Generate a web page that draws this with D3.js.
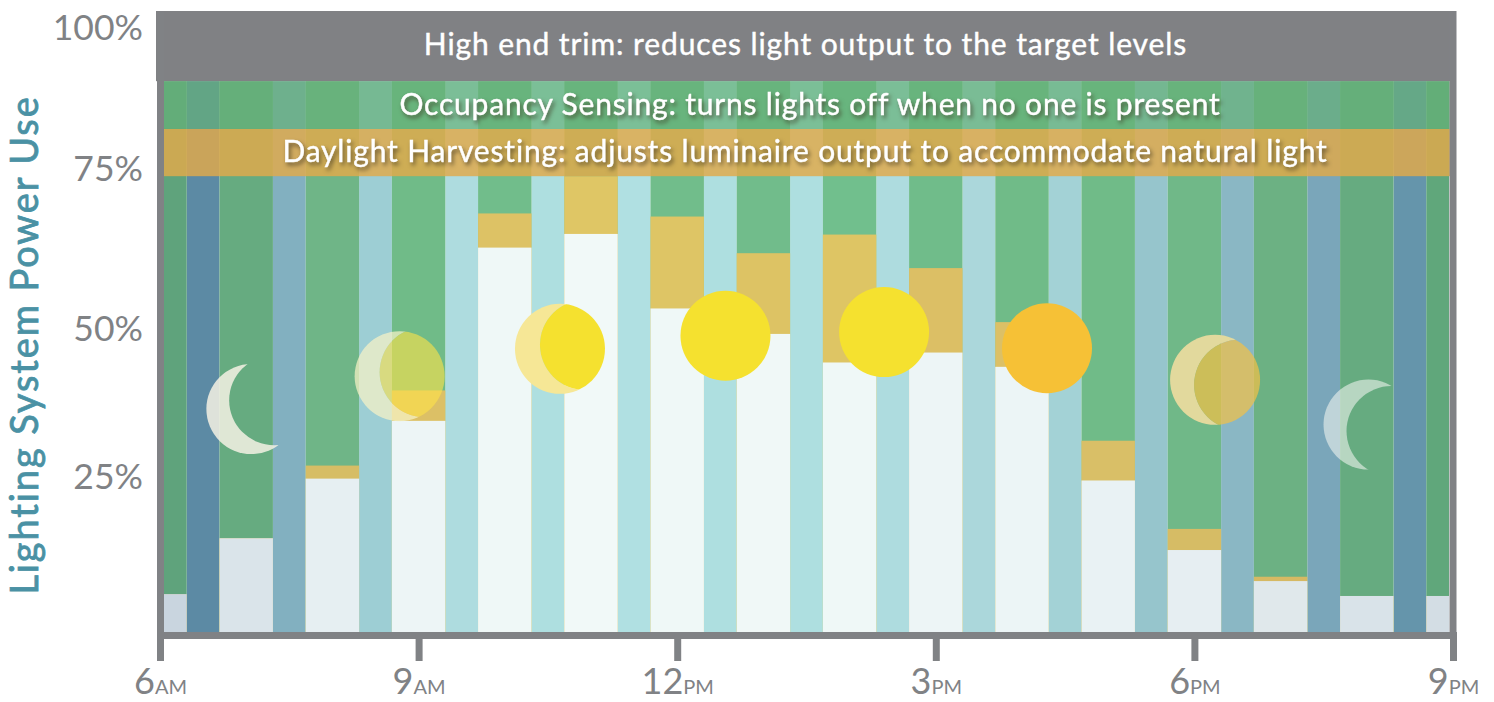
<!DOCTYPE html>
<html>
<head>
  <title>Lighting System Power Use</title>
  <script src="https://d3js.org/d3.v7.min.js"></script>
  <style>
    body { margin: 0; background: #fff; }
    text { font-family: Lato, "Open Sans", sans-serif; }
    .shadow { filter: drop-shadow(2px 3px 2px rgba(60, 50, 30, 0.65)); }
  </style>
</head>
<body>
  <div id="chart"></div>
  <script>
    // values, all in percent of power use
    var hours = [6, 7, 8, 9, 10, 11, 12, 13, 14, 15, 16, 17, 18, 19, 20, 21];
    var powerUsed = [6.1, 15.1, 24.7, 34.0, 61.9, 64.1, 52.1, 48.0, 43.4, 45.0, 42.7, 24.4, 13.2, 8.2, 5.8, 5.8];
    var daylightTop = [6.1, 15.1, 26.8, 38.9, 67.4, 73.4, 66.9, 61.0, 64.0, 58.6, 49.9, 30.8, 16.6, 8.9, 5.8, 5.8];
    var bandNames = ["High end trim: reduces light output to the target levels",
      "Occupancy Sensing: turns lights off when no one is present",
      "Daylight Harvesting: adjusts luminaire output to accommodate natural light"];
    var bandFrom = [88.7, 81, 73.4];
    var bandTo = [100, 88.7, 81];
    var yTicks = [25, 50, 75, 100];
    var xTicks = [6, 9, 12, 15, 18, 21];
    var xTickNums = ["6", "9", "12", "3", "6", "9"];
    var xTickParts = ["AM", "AM", "PM", "PM", "PM", "PM"];
    // sun and moon position over the day
    var skyHour = [7.06, 8.78, 10.64, 12.56, 14.40, 16.29, 18.24, 20.02];
    var skyLevel = [35.9, 41.2, 45.6, 47.7, 48.3, 45.7, 40.6, 33.4];

    // colours, one per hour / per gap after the hour
    var whiteCols = ["#c9d5df", "#dae4ea", "#e6eff2", "#edf5f6", "#eff8f7", "#f1f9f8", "#eff8f7", "#f0f8f7", "#eff8f7", "#edf5f6", "#ecf5f6", "#e9f2f4", "#e6eef2", "#e0e8eb", "#d9e3e9", "#d3dde4"];
    var greenCols = ["#5fa37c", "#66ab80", "#6fb587", "#70bb88", "#71bd8b", "#71bd8b", "#71bd8b", "#71bc8b", "#71bf8d", "#70bc8a", "#70bb88", "#70bb88", "#70b888", "#6cb183", "#66ab80", "#60a77b"];
    var amberCols = ["#d5bc62", "#d5bc62", "#d6bd65", "#dcc066", "#ddc265", "#dfc665", "#dec565", "#ddc364", "#dec564", "#dcbf65", "#dcc066", "#d9bf67", "#d6bc65", "#d6b963", "#d5bc62", "#d5bc62"];
    var gapCols = ["#5c8aa4", "#82b0c0", "#9dced4", "#aedcdf", "#aedfe0", "#b0e0e2", "#aedfe0", "#aedfe0", "#aedcdf", "#abd7db", "#a3d2d6", "#96c5cc", "#8ab7c4", "#7aa6ba", "#6595ab"];
    var bandCols = ["#808184", "#65b077", "#e1a94b"];
    var bandOpacity = [1, 0.7, 0.83];

    var width = 1494, height = 702;
    var barHalf = 0.31, discR = 45;
    var grey = "#808285";

    var svg = d3.select("#chart").append("svg")
      .attr("width", width)
      .attr("height", height)
      .style("display", "block");

    var x = d3.scaleLinear().domain([6, 21]).range([160, 1453]);
    var y = d3.scaleLinear().domain([0, 100]).range([632, 11]);
    // the percent labels do not sit on the grid in the original
    var labelY = d3.scaleLinear().domain(yTicks).range([476, 328, 168, 27]);

    var left = 163, right = 1449;
    function clampX(v) { return Math.max(left, Math.min(right, v)); }

    var gapHours = hours.slice(0, -1);
    svg.selectAll("rect.gap")
      .data(gapHours)
      .enter()
      .append("rect")
      .attr("class", "gap")
      .attr("x", function(d) { return x(d + barHalf); })
      .attr("width", function(d) { return x(d + 1 - barHalf) - x(d + barHalf); })
      .attr("y", y(bandFrom[0]))
      .attr("height", y(0) - y(bandFrom[0]))
      .attr("fill", function(d, i) { return gapCols[i]; });

    function barX(d) { return clampX(x(d - barHalf)); }
    function barW(d) { return clampX(x(d + barHalf)) - clampX(x(d - barHalf)); }

    // green = occupancy saved, from the amber top up to the band
    svg.selectAll("rect.green")
      .data(hours)
      .enter()
      .append("rect")
      .attr("class", "green")
      .attr("x", barX)
      .attr("width", barW)
      .attr("y", y(bandFrom[0]))
      .attr("height", y(0) - y(bandFrom[0]))
      .attr("fill", function(d, i) { return greenCols[i]; });

    svg.selectAll("rect.amber")
      .data(hours)
      .enter()
      .append("rect")
      .attr("class", "amber")
      .attr("x", barX)
      .attr("width", barW)
      .attr("y", function(d, i) { return y(daylightTop[i]); })
      .attr("height", function(d, i) { return y(0) - y(daylightTop[i]); })
      .attr("fill", function(d, i) { return amberCols[i]; });

    svg.selectAll("rect.white")
      .data(hours)
      .enter()
      .append("rect")
      .attr("class", "white")
      .attr("x", barX)
      .attr("width", barW)
      .attr("y", function(d, i) { return y(powerUsed[i]); })
      .attr("height", function(d, i) { return y(0) - y(powerUsed[i]); })
      .attr("fill", function(d, i) { return whiteCols[i]; });

    // three horizontal savings bands
    svg.selectAll("rect.band")
      .data(bandNames)
      .enter()
      .append("rect")
      .attr("class", "band")
      .attr("x", function(d, i) { return i == 0 ? 156 : left; })
      .attr("width", function(d, i) { return i == 0 ? 1300 : 1289; })
      .attr("y", function(d, i) { return y(bandTo[i]); })
      .attr("height", function(d, i) { return y(bandFrom[i]) - y(bandTo[i]); })
      .attr("fill", function(d, i) { return bandCols[i]; })
      .attr("fill-opacity", function(d, i) { return bandOpacity[i]; });

    svg.selectAll("text.band")
      .data(bandNames)
      .enter()
      .append("text")
      .attr("class", function(d, i) { return i == 0 ? "band" : "band shadow"; })
      .attr("x", function(d, i) { return [805.5, 810, 805][i]; })
      .attr("y", function(d, i) { return (y(bandFrom[i]) + y(bandTo[i])) / 2 + [-2, -1, -1][i]; })
      .attr("dy", "0.35em")
      .attr("text-anchor", "middle")
      .attr("fill", "#fff")
      .attr("stroke", "#fff")
      .attr("stroke-width", 0.4)
      .attr("font-size", 30)
      .attr("letter-spacing", function(d, i) { return [0.9, 0.8, 0.83][i]; })
      .text(function(d) { return d; });

    // sun and moon phases
    var defs = svg.append("defs");
    var sky = svg.selectAll("g.sky")
      .data(skyHour)
      .enter()
      .append("g")
      .attr("class", "sky")
      .attr("transform", function(d, i) { return "translate(" + x(d) + "," + y(skyLevel[i]) + ")"; });

    function drawPhase(g, i, dx, dy, crescentFill, crescentOpacity, lensFill, lensOpacity) {
      var mask = defs.append("mask").attr("id", "cut" + i)
        .attr("maskUnits", "userSpaceOnUse")
        .attr("x", -60).attr("y", -60).attr("width", 120).attr("height", 120);
      mask.append("rect").attr("x", -60).attr("y", -60).attr("width", 120).attr("height", 120).attr("fill", "#fff");
      mask.append("circle").attr("cx", dx).attr("cy", dy).attr("r", discR).attr("fill", "#000");
      g.append("circle").attr("r", discR).attr("mask", "url(#cut" + i + ")")
        .attr("fill", crescentFill).attr("fill-opacity", crescentOpacity);
      if (lensFill) {
        defs.append("clipPath").attr("id", "lens" + i)
          .append("circle").attr("cx", dx).attr("cy", dy).attr("r", discR);
        g.append("circle").attr("r", discR).attr("clip-path", "url(#lens" + i + ")")
          .attr("fill", lensFill).attr("fill-opacity", lensOpacity);
      }
    }

    sky.each(function(d, i) {
      var g = d3.select(this);
      if (i == 0) drawPhase(g, i, 22.8, -8.8, "#f4f1e4", 0.85);
      if (i == 1) drawPhase(g, i, 25, -4, "#f7f2c6", 0.72, "#ffe348", 0.6);
      if (i == 2) drawPhase(g, i, 25, -4, "#f6e796", 1, "#f5e12f", 1);
      if (i == 3 || i == 4) g.append("circle").attr("r", discR).attr("fill", "#f5e12f");
      if (i == 5) g.append("circle").attr("r", discR).attr("fill", "#f6c136");
      if (i == 6) drawPhase(g, i, 24, 5, "#e2d99d", 1, "#f4c146", 0.7);
      if (i == 7) drawPhase(g, i, 23, 6.5, "#f2f4f0", 0.58);
    });

    // axes
    var xAxis = d3.axisBottom(x).tickValues(xTicks).tickSize(26).tickSizeOuter(0).tickFormat("");
    var gx = svg.append("g").attr("transform", "translate(0,635)").call(xAxis);
    gx.select(".domain").attr("stroke", grey).attr("stroke-width", 7).attr("stroke-linecap", "square");
    gx.selectAll(".tick line").attr("stroke", grey).attr("stroke-width", 7);
    gx.selectAll(".tick text").remove();
    var xLabel = gx.selectAll(".tick").append("text")
      .attr("y", 59)
      .attr("text-anchor", "middle")
      .attr("fill", grey);
    xLabel.append("tspan").attr("font-size", 36).text(function(d, i) { return xTickNums[i]; });
    xLabel.append("tspan").attr("font-size", 20).text(function(d, i) { return xTickParts[i]; });

    var yAxis = d3.axisLeft(y).tickValues(yTicks).tickSize(0).tickFormat("");
    var gy = svg.append("g").attr("transform", "translate(160,0)").call(yAxis);
    gy.select(".domain").attr("stroke", grey).attr("stroke-width", 7);
    gy.selectAll(".tick text").remove();
    gy.selectAll(".tick").append("text")
      .attr("transform", function(d) { return "translate(0," + (labelY(d) - y(d)) + ")"; })
      .attr("x", -17)
      .attr("dy", "0.35em")
      .attr("text-anchor", "end")
      .attr("fill", grey)
      .attr("font-size", 35.5)
      .text(function(d) { return d + "%"; });

    svg.append("line")
      .attr("x1", x(21)).attr("x2", x(21))
      .attr("y1", y(100)).attr("y2", 635)
      .attr("stroke", grey).attr("stroke-width", 7);

    svg.append("text")
      .attr("transform", "translate(38,345) rotate(-90)")
      .attr("text-anchor", "middle")
      .attr("fill", "#4a91a4")
      .attr("stroke", "#4a91a4")
      .attr("stroke-width", 0.8)
      .attr("font-size", 38)
      .attr("letter-spacing", 1.9)
      .text("Lighting System Power Use");
  </script>
</body>
</html>
